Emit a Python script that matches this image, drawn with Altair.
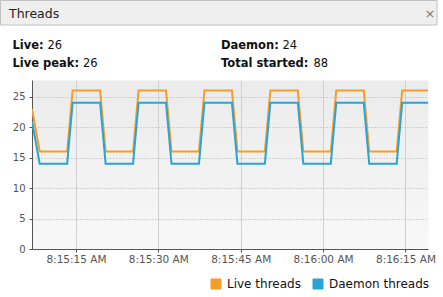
import altair as alt
import pandas as pd

# ---------------- data ----------------
series_names = ["Live threads", "Daemon threads"]
series_colors = ["#f29d2c", "#2aa5d3"]

first_time = "2024-01-01T08:15:07.000"
sample_start = "2024-01-01T08:15:08.400"  # then one sample per second

live = [23,
        16, 16, 16, 16, 16, 16, 26, 26, 26, 26, 26, 26,
        16, 16, 16, 16, 16, 16, 26, 26, 26, 26, 26, 26,
        16, 16, 16, 16, 16, 16, 26, 26, 26, 26, 26, 26,
        16, 16, 16, 16, 16, 16, 26, 26, 26, 26, 26, 26,
        16, 16, 16, 16, 16, 16, 26, 26, 26, 26, 26, 26,
        16, 16, 16, 16, 16, 16, 26, 26, 26, 26, 26, 26]
daemon = [21,
          14, 14, 14, 14, 14, 14, 24, 24, 24, 24, 24, 24,
          14, 14, 14, 14, 14, 14, 24, 24, 24, 24, 24, 24,
          14, 14, 14, 14, 14, 14, 24, 24, 24, 24, 24, 24,
          14, 14, 14, 14, 14, 14, 24, 24, 24, 24, 24, 24,
          14, 14, 14, 14, 14, 14, 24, 24, 24, 24, 24, 24,
          14, 14, 14, 14, 14, 14, 24, 24, 24, 24, 24, 24]

x_tick_times = ["08:15:15", "08:15:30", "08:15:45", "08:16:00", "08:16:15"]
x_domain_times = ["08:15:07.000", "08:16:19.100"]
y_ticks = [0, 5, 10, 15, 20, 25]
y_max = 27.74

panel_title = "Threads"
stats_labels = ["Live:", "Live peak:", "Daemon:", "Total started:"]
stats_values = ["26", "26", "24", "88"]

# ---------------- tables ----------------
times = [pd.Timestamp(first_time)] + list(pd.date_range(sample_start, periods=len(live) - 1, freq="1s"))
tstr = [t.strftime("%Y-%m-%dT%H:%M:%S.%f")[:-3] for t in times]
df = pd.DataFrame({
    "time": tstr * 2,
    "value": live + daemon,
    "series": [series_names[0]] * len(live) + [series_names[1]] * len(daemon),
})


def dt(s):
    hh, mm, rest = s.split(":")
    sec = float(rest)
    return alt.DateTime(year=2024, month=1, date=1, hours=int(hh), minutes=int(mm),
                        seconds=int(sec), milliseconds=int(round((sec - int(sec)) * 1000)))


FONT = "DejaVu Sans"
W, H = 396, 169

x_enc = alt.X("time:T",
              scale=alt.Scale(domain=[dt(s) for s in x_domain_times], nice=False),
              axis=alt.Axis(values=[dt(s) for s in x_tick_times], format="%-I:%M:%S %p",
                            title=None, grid=True, gridColor="#d0d0d0", gridWidth=1,
                            domainColor="#555", tickColor="#555", tickSize=3,
                            labelFont=FONT, labelFontSize=10.5, labelColor="#555",
                            labelPadding=2, labelFlush=False, labelOverlap=False,
                            labelBound=False))
y_enc = alt.Y("value:Q",
              scale=alt.Scale(domain=[0, y_max], nice=False, zero=True),
              axis=alt.Axis(values=y_ticks, title=None, grid=True, gridColor="#b0b0b0",
                            gridDash=[1, 2], gridWidth=1, domainColor="#555",
                            tickColor="#555", tickSize=3, labelFont=FONT,
                            labelFontSize=10, labelColor="#555", labelPadding=4))
color_enc = alt.Color("series:N",
                      scale=alt.Scale(domain=series_names, range=series_colors),
                      legend=alt.Legend(title=None, orient="none", legendX=178, legendY=198,
                                        direction="horizontal", symbolType="square",
                                        symbolSize=100, symbolStrokeColor="#555",
                                        symbolStrokeWidth=1, symbolOpacity=1, labelFont=FONT,
                                        labelFontSize=12, labelColor="#111",
                                        labelOffset=5, columnPadding=10, padding=0))

base = alt.Chart(df)
legend_layer = base.transform_filter("false").mark_square(
    filled=True, opacity=1, stroke="#555", strokeWidth=1).encode(
    x=x_enc, y=y_enc, color=color_enc)
live_line = base.transform_filter(alt.datum.series == series_names[0]).mark_line(
    strokeWidth=2, clip=True).encode(x=x_enc, y=y_enc, color=color_enc)
daemon_line = base.transform_filter(alt.datum.series == series_names[1]).mark_line(
    strokeWidth=2, clip=True).encode(x=x_enc, y=y_enc, color=color_enc)


def text_layer(s, x, y, bold=False, size=12, color="#111", align="left"):
    return alt.Chart(alt.Data(values=[{"t": s}])).mark_text(
        font=FONT, fontSize=size, fontWeight="bold" if bold else "normal",
        color=color, align=align, baseline="alphabetic").encode(
        x=alt.value(x), y=alt.value(y), text="t:N")


title_bar = alt.Chart(alt.Data(values=[{"t": panel_title}])).mark_rect(
    fill="#efefef", stroke="#c2c2c2", strokeWidth=1).encode(
    x=alt.value(-31.5), x2=alt.value(405), y=alt.value(-79.5), y2=alt.value(-55))

STAT_SIZE = 11.5
label_pos = [(-19.5, -31), (-19.5, -13), (189, -31), (189, -13)]
value_pos = [(15.5, -31), (51, -13), (250.5, -31), (281.5, -13)]

layers = [title_bar,
          text_layer(panel_title, -23, -62, size=12.5, color="#222"),
          text_layer("×", 398, -62, size=13, color="#777", align="center")]
for i in range(len(stats_labels)):
    layers.append(text_layer(stats_labels[i], *label_pos[i], bold=True, size=STAT_SIZE))
    layers.append(text_layer(stats_values[i], *value_pos[i], size=STAT_SIZE))
layers += [legend_layer, live_line, daemon_line]

grad = ("{gradient: 'linear', x1: 0, y1: 0, x2: 0, y2: 1, "
        "stops: [{offset: 0, color: '#ebebeb'}, {offset: 1, color: '#f8f8f8'}]}")

chart = alt.layer(*layers).properties(
    width=W, height=H,
    autosize=alt.AutoSizeParams(type="none"),
    padding={"left": 32, "top": 80, "right": 15, "bottom": 48},
    background="white",
).configure_view(stroke="transparent", fill={"expr": grad})

chart.save("out.html", embed_options={"renderer": "svg", "actions": False})
